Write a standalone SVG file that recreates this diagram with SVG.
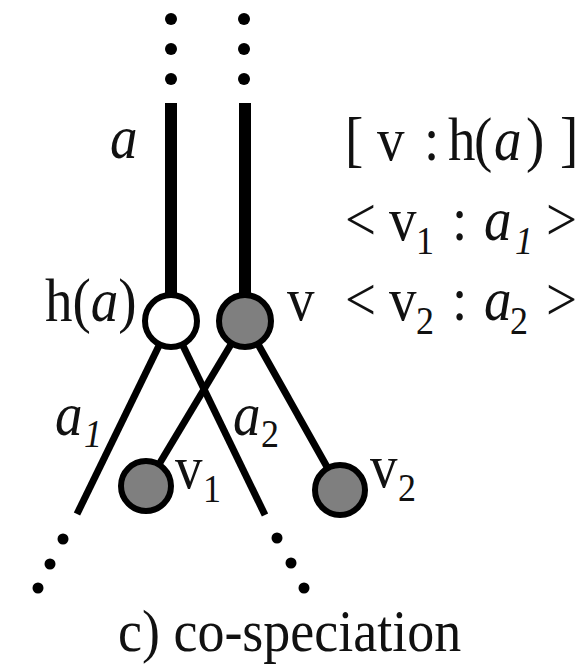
<svg xmlns="http://www.w3.org/2000/svg" width="586" height="671" viewBox="0 0 586 671">
<style>
.t{font-family:"Liberation Serif","Times New Roman","DejaVu Serif",serif;font-size:55px;fill:#111}
.i{font-style:italic}
.s{font-size:36px}
.edge{stroke:#000;stroke-width:7;fill:none}
.trunk{stroke:#000;stroke-width:12;fill:none}
.dot{fill:#000}
.node{stroke:#000;stroke-width:6}
.host{fill:#fff}
.par{fill:#7f7f7f}
</style>
<rect width="586" height="671" fill="#fff"/>
<g id="connectors">
  <line class="trunk" x1="171" y1="103" x2="171" y2="300"/>
  <line class="trunk" x1="245" y1="103" x2="245" y2="300"/>
  <line class="edge" x1="171" y1="321" x2="77" y2="514"/>
  <line class="edge" x1="171" y1="321" x2="265" y2="515"/>
  <line class="edge" x1="245" y1="321" x2="146" y2="486"/>
  <line class="edge" x1="245" y1="321" x2="340" y2="490"/>
  <g id="dots">
    <circle class="dot" cx="171" cy="19" r="6"/>
    <circle class="dot" cx="171" cy="49" r="6"/>
    <circle class="dot" cx="171" cy="79" r="6"/>
    <circle class="dot" cx="244" cy="19" r="6"/>
    <circle class="dot" cx="244" cy="49" r="6"/>
    <circle class="dot" cx="244" cy="79" r="6"/>
    <circle class="dot" cx="63" cy="539" r="5.5"/>
    <circle class="dot" cx="50" cy="564" r="5.5"/>
    <circle class="dot" cx="38" cy="588" r="5.5"/>
    <circle class="dot" cx="277" cy="538" r="5.5"/>
    <circle class="dot" cx="291" cy="563" r="5.5"/>
    <circle class="dot" cx="304" cy="588" r="5.5"/>
  </g>
</g>
<g id="node-ha"><circle class="node host" cx="171" cy="321" r="26"/></g>
<g id="node-v"><circle class="node par" cx="245" cy="321" r="26"/></g>
<g id="node-v1"><circle class="node par" cx="146" cy="486" r="25"/></g>
<g id="node-v2"><circle class="node par" cx="340" cy="490" r="25"/></g>
<g id="labels" font-family="Liberation Serif, Times New Roman, serif">
  <text class="t i" transform="translate(0,158) scale(1,1.1)" x="110" y="0">a</text>
  <text class="t" transform="translate(0,321) scale(1,1.1)" y="0"><tspan x="45">h(</tspan><tspan class="i">a</tspan><tspan>)</tspan></text>
  <text class="t" transform="translate(0,320) scale(1,1.1)" x="287" y="0">v</text>
  <text class="t" transform="translate(0,435) scale(1,1.1)" y="0"><tspan class="i" x="55">a</tspan><tspan class="i s" x="84" dy="11">1</tspan></text>
  <text class="t" transform="translate(0,435) scale(1,1.1)" y="0"><tspan class="i" x="233">a</tspan><tspan class="s" x="261" dy="11">2</tspan></text>
  <text class="t" transform="translate(0,488) scale(1,1.1)" y="0"><tspan x="175">v</tspan><tspan class="s" x="203" dy="13">1</tspan></text>
  <text class="t" transform="translate(0,487) scale(1,1.1)" y="0"><tspan x="370">v</tspan><tspan class="s" x="398" dy="13">2</tspan></text>
  <text class="t" transform="translate(0,160) scale(1,1.1)" y="0"><tspan x="345">[</tspan><tspan x="377">v</tspan><tspan x="424">:</tspan><tspan x="448">h</tspan><tspan x="474">(</tspan><tspan class="i" x="494">a</tspan><tspan x="526">)</tspan><tspan x="560">]</tspan></text>
  <text class="t" transform="translate(0,240) scale(1,1.1)" y="0"><tspan x="345">&lt;</tspan><tspan x="389">v</tspan><tspan class="s" x="416" dy="13">1</tspan><tspan x="452" dy="-13">:</tspan><tspan class="i" x="484">a</tspan><tspan class="i s" x="515" dy="13">1</tspan><tspan x="546" dy="-13">&gt;</tspan></text>
  <text class="t" transform="translate(0,320) scale(1,1.1)" y="0"><tspan x="345">&lt;</tspan><tspan x="389">v</tspan><tspan class="s" x="416" dy="13">2</tspan><tspan x="452" dy="-13">:</tspan><tspan class="i" x="484">a</tspan><tspan class="s" x="510" dy="13">2</tspan><tspan x="546" dy="-13">&gt;</tspan></text>
  <text class="t" transform="translate(0,651) scale(1,1.1)" x="118" y="0" style="font-size:54px">c) co-speciation</text>
</g>
</svg>
